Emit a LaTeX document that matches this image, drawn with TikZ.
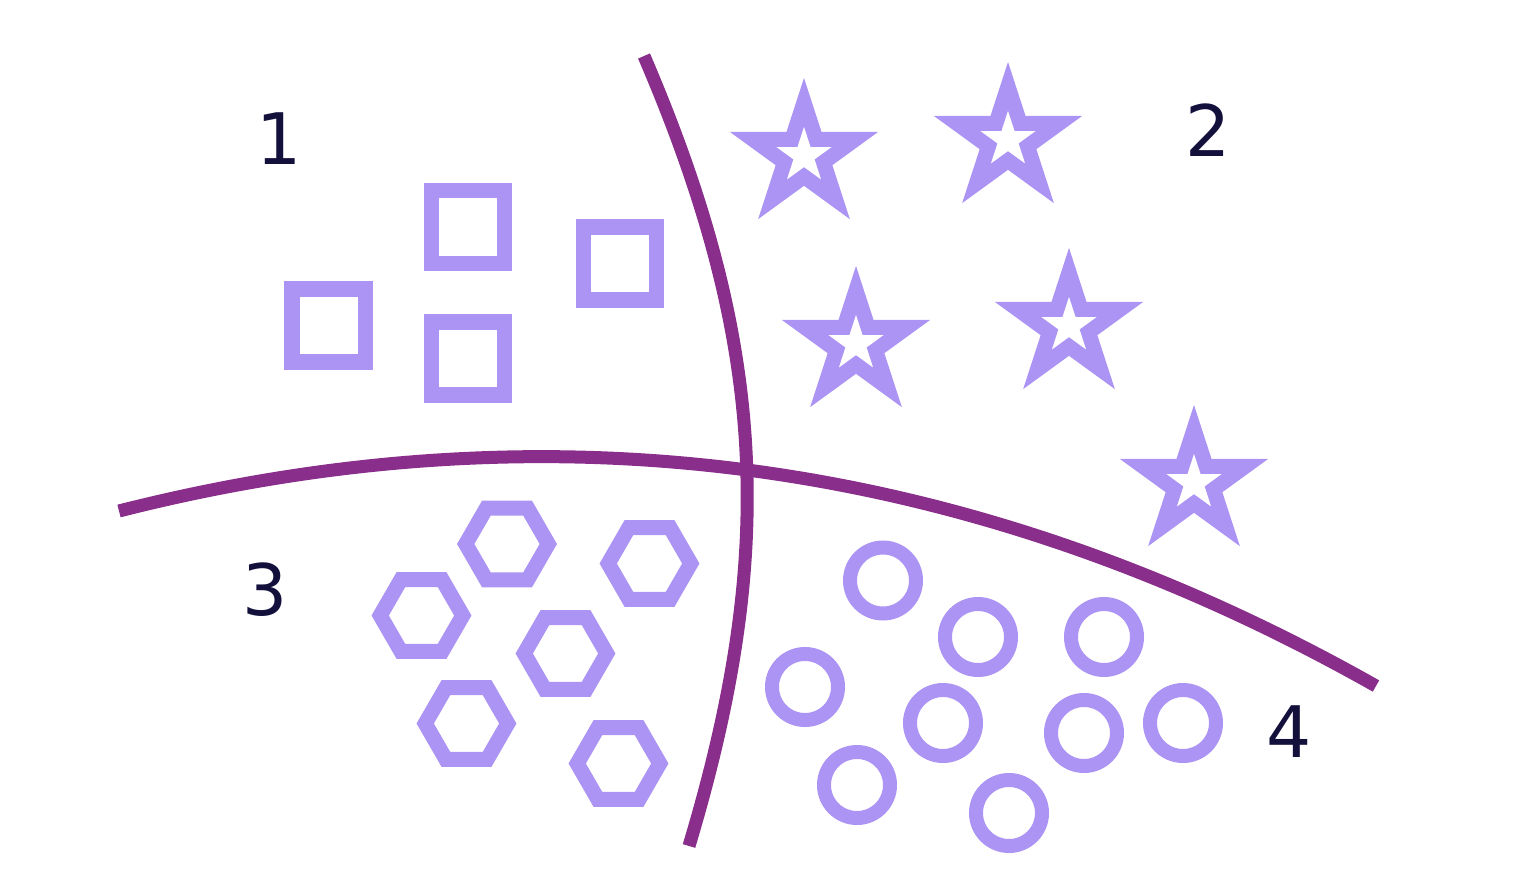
\documentclass[tikz,border=0pt]{standalone}
\usepackage{fontspec}
\setmainfont{DejaVu Sans}
\definecolor{shapecol}{HTML}{AC94F4}
\definecolor{linecol}{HTML}{8A2E8C}
\definecolor{textcol}{HTML}{14103C}
\tikzset{
  shapeline/.style={draw=shapecol,line width=0.15cm,line join=miter,miter limit=10},
  ringline/.style={draw=shapecol,line width=0.14cm},
  divline/.style={draw=linecol,line width=0.13cm,line cap=butt},
  lbl/.style={text=textcol,inner sep=0pt,font=\fontsize{20.2}{24}\selectfont}
}
\newcommand\mystar[2]{\draw[shapeline,shift={(#1,#2)}] (270:53.75) -- (306:20.53) -- (342:53.75) -- (18:20.53) -- (54:53.75) -- (90:20.53) -- (126:53.75) -- (162:20.53) -- (198:53.75) -- (234:20.53) -- cycle;}
\newcommand\myhex[2]{\draw[shapeline,shift={(#1,#2)}] (0:41.3) -- (60:41.3) -- (120:41.3) -- (180:41.3) -- (240:41.3) -- (300:41.3) -- cycle;}
\newcommand\mysq[2]{\draw[shapeline,shift={(#1,#2)}] (-36.5,-36.5) rectangle (36.5,36.5);}
\newcommand\myring[2]{\draw[ringline] (#1,#2) circle[radius=33];}
\begin{document}
\begin{tikzpicture}[x=0.01cm,y=-0.01cm]
\useasboundingbox (0,0) rectangle (1524,882);
% squares
\mysq{467.5}{227}
\mysq{619.5}{263.5}
\mysq{328.5}{325.5}
\mysq{467.5}{358.5}
% stars
\mystar{804}{156}
\mystar{1008}{140}
\mystar{856}{344}
\mystar{1069}{326}
\mystar{1194}{483}
% hexagons
\myhex{507}{544}
\myhex{649.5}{563.5}
\myhex{421.5}{615.5}
\myhex{565.5}{653.5}
\myhex{466.5}{723.5}
\myhex{618.5}{763.5}
% rings
\myring{883}{580.5}
\myring{978}{637}
\myring{1104}{637}
\myring{805}{687}
\myring{943}{723}
\myring{1084}{733}
\myring{1183}{723}
\myring{857}{785}
\myring{1009}{813}
% dividing curves
\coordinate (vtop) at (644,56);
\coordinate (vbot) at (689,846);
\coordinate (hleft) at (119,511);
\coordinate (hright) at (1376,686);
\draw[divline] (vtop) .. controls (768.9,346.4) and (776.1,555.6) .. (vbot);
\draw[divline] (hleft) .. controls (554.7,400.3) and (973.7,458.7) .. (hright);
% labels
\node[lbl] (l1) at (279,139) {1};
\node[lbl] (l2) at (1208,130) {2};
\node[lbl] (l3) at (265,590) {3};
\node[lbl] (l4) at (1289,732) {4};
\end{tikzpicture}
\end{document}
